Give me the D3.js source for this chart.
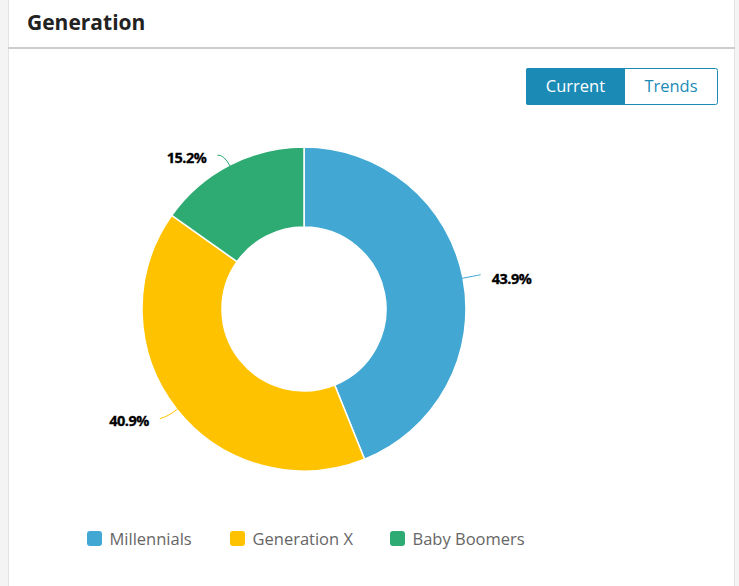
<!DOCTYPE html>
<html><head><meta charset="utf-8">
<script src="https://cdn.jsdelivr.net/npm/d3@7"></script>
<style>
html,body{margin:0;padding:0;background:#f4f4f4;}
svg{display:block;font-family:"Open Sans",sans-serif;}
</style></head>
<body>
<svg id="c" width="739" height="586"></svg>
<script>
const categories = ["Millennials", "Generation X", "Baby Boomers"];
const values = [43.9, 40.9, 15.2];
const colors = ["#42a8d3", "#ffc200", "#2eab73"];
const buttons = ["Current", "Trends"];
const title = "Generation";

const svg = d3.select("#c");
// card
svg.append("rect").attr("x", 8.5).attr("y", -2).attr("width", 726).attr("height", 600)
  .attr("fill", "#fff").attr("stroke", "#e3e3e3");
svg.append("line").attr("x1", 8).attr("x2", 735).attr("y1", 48).attr("y2", 48)
  .attr("stroke", "#cccccc").attr("stroke-width", 2);
svg.append("text").attr("x", 27).attr("y", 30).text(title)
  .attr("font-size", 21).attr("font-weight", 700).attr("fill", "#222");

// toggle buttons
const bx = 526, by = 68, bw = 191, bh = 36;
const g = svg.append("g");
g.append("rect").attr("x", bx + 0.5).attr("y", by + 0.5).attr("width", bw).attr("height", bh)
  .attr("rx", 2).attr("fill", "#fff").attr("stroke", "#1b8bb6");
g.append("path").attr("d", `M${bx+2},${by} H${bx+99} V${by+bh+1} H${bx+2} Q${bx},${by+bh+1} ${bx},${by+bh-1} V${by+2} Q${bx},${by} ${bx+2},${by} Z`)
  .attr("fill", "#1b8bb6");
g.append("text").attr("x", bx + 49.5).attr("y", by + 24).attr("text-anchor", "middle")
  .attr("font-size", 16.5).attr("fill", "#fff").text(buttons[0]);
g.append("text").attr("x", bx + 145).attr("y", by + 24).attr("text-anchor", "middle")
  .attr("font-size", 16.5).attr("fill", "#1b8bb6").text(buttons[1]);

// donut
const cx = 304, cy = 309, R = 162, r = 82;
const pie = d3.pie().sort(null).value(d => d)(values);
const arc = d3.arc().innerRadius(r).outerRadius(R);
const cg = svg.append("g").attr("transform", `translate(${cx},${cy})`);
cg.selectAll("path.s").data(pie).enter().append("path").attr("class", "s")
  .attr("d", arc).attr("fill", (d, i) => colors[i]).attr("stroke", "#fff").attr("stroke-width", 1.5);

// labels
const fmt = d3.format(".1f");
pie.forEach((d, i) => {
  const a = (d.startAngle + d.endAngle) / 2;
  const sx = Math.sin(a), sy = -Math.cos(a);
  const right = sx >= 0;
  const top = sy < -0.5;
  const bottom = sy > 0.5;
  const p0 = [sx * (R - 1), sy * (R - 1)];
  const p2 = [sx * (R + 18) + (top ? -4 : (bottom ? -3 : 0)), sy * (R + 18) + (top ? 6 : (bottom ? -2 : 0))];
  const p1 = [sx * (R + 12), sy * (R + 12)];
  cg.append("path").attr("d", `M${p0[0]},${p0[1]} Q${p1[0]},${p1[1]} ${p2[0]},${p2[1]}`)
    .attr("fill", "none").attr("stroke", colors[i]).attr("stroke-width", 1);
  const ty = p2[1] + (top ? 3 : (bottom ? 2 : 4));
  cg.append("text").attr("x", p2[0] + (right ? 11 : -11)).attr("y", ty + 5)
    .attr("text-anchor", right ? "start" : "end")
    .attr("font-size", 14.5).attr("font-weight", 700).attr("letter-spacing", -0.5).attr("fill", "#000")
    .attr("stroke", "#000").attr("stroke-width", 0.3)
    .text(fmt(values[i]) + "%");
});

// legend
const lx = [87, 230, 390];
const lg = svg.append("g");
categories.forEach((c, i) => {
  lg.append("rect").attr("x", lx[i]).attr("y", 531).attr("width", 15).attr("height", 15)
    .attr("rx", 3).attr("fill", colors[i]);
  lg.append("text").attr("x", lx[i] + 22.5).attr("y", 544.5).attr("font-size", 16.5)
    .attr("fill", "#666").text(c);
});
</script>
</body></html>
